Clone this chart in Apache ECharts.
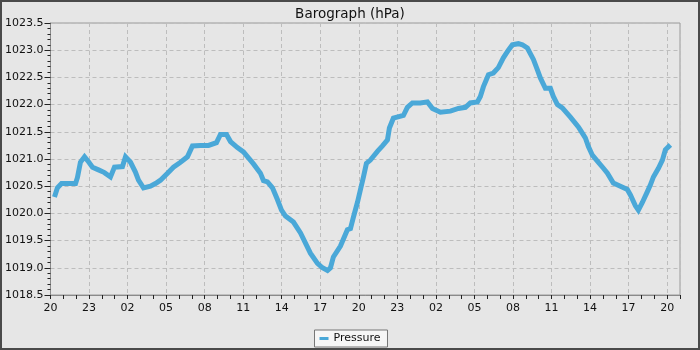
<!DOCTYPE html>
<html>
<head>
<meta charset="utf-8">
<script src="https://cdn.jsdelivr.net/npm/echarts@6/dist/echarts.min.js"></script>
<style>
  html, body { margin: 0; padding: 0; background: #e6e6e6; }
  .frame { width: 700px; height: 350px; box-sizing: border-box; border: 2px solid #4a4a4a; background: #e6e6e6; }
  .baro { width: 696px; height: 346px; }
</style>
</head>
<body>
<div class="frame"><div class="baro"></div></div>
<script>
// hours since 20:00 of the first day
var hours = [0.31, 0.54, 0.86, 1.40, 1.95, 2.10, 2.33, 2.65, 2.96, 3.27, 3.74, 4.20, 4.67, 4.98,
  5.60, 5.84, 6.23, 6.61, 6.85, 7.24, 7.78, 8.17, 8.56, 9.11, 9.57, 10.12, 10.66, 11.05, 11.67,
  12.30, 12.92, 13.23, 13.70, 14.01, 14.55, 15.02, 15.41, 15.80, 16.34, 16.58, 16.89, 17.28,
  17.67, 17.98, 18.29, 18.91, 19.46, 20.00, 20.23, 20.78, 21.17, 21.56, 21.79, 22.02, 22.57,
  23.11, 23.35, 23.58, 23.89, 24.12, 24.36, 24.59, 24.90, 25.14, 25.45, 25.84, 26.23, 26.38,
  26.69, 27.47, 27.78, 28.17, 28.79, 29.34, 29.73, 30.35, 31.13, 31.75, 32.30, 32.68, 33.23,
  33.46, 33.70, 34.09, 34.47, 34.86, 35.25, 35.64, 35.95, 36.42, 36.73, 37.12, 37.59, 37.90,
  38.13, 38.52, 38.91, 39.14, 39.46, 39.84, 40.47, 41.09, 41.25, 41.63, 41.87, 42.18, 42.65,
  43.04, 43.35, 43.81, 44.36, 44.90, 45.14, 45.53, 45.76, 46.07, 46.46, 46.69, 46.93, 47.32,
  47.63, 47.86, 48.25];
var pressure = [1020.30, 1020.47, 1020.55, 1020.55, 1020.55, 1020.66, 1020.94, 1021.04, 1020.95,
  1020.85, 1020.80, 1020.75, 1020.67, 1020.85, 1020.86, 1021.04, 1020.94, 1020.76, 1020.61,
  1020.47, 1020.50, 1020.55, 1020.61, 1020.74, 1020.85, 1020.94, 1021.04, 1021.24, 1021.25,
  1021.25, 1021.30, 1021.45, 1021.45, 1021.32, 1021.21, 1021.13, 1021.02, 1020.91, 1020.74,
  1020.60, 1020.58, 1020.47, 1020.25, 1020.06, 1019.95, 1019.84, 1019.64, 1019.38, 1019.27,
  1019.08, 1019.00, 1018.95, 1019.00, 1019.20, 1019.40, 1019.70, 1019.72, 1019.93, 1020.20,
  1020.43, 1020.67, 1020.92, 1020.98, 1021.05, 1021.14, 1021.24, 1021.35, 1021.57, 1021.75,
  1021.80, 1021.95, 1022.03, 1022.03, 1022.05, 1021.93, 1021.86, 1021.88, 1021.93, 1021.95,
  1022.03, 1022.05, 1022.15, 1022.33, 1022.55, 1022.58, 1022.68, 1022.86, 1023.00, 1023.10,
  1023.12, 1023.10, 1023.04, 1022.83, 1022.64, 1022.49, 1022.30, 1022.30, 1022.15, 1022.00,
  1021.94, 1021.77, 1021.59, 1021.53, 1021.39, 1021.23, 1021.07, 1020.94, 1020.83, 1020.74,
  1020.56, 1020.50, 1020.44, 1020.34, 1020.14, 1020.06, 1020.20, 1020.40, 1020.52, 1020.67,
  1020.83, 1020.98, 1021.17, 1021.26];
var startHour = 20;

var points = hours.map(function (h, i) { return [h, pressure[i]]; });

var chart = echarts.init(document.querySelector('.baro'));
var font = 'DejaVu Sans';
var option = {
  backgroundColor: '#e6e6e6',
  animation: false,
  title: {
    text: 'Barograph (hPa)',
    left: 'center',
    top: 0,
    textStyle: { fontFamily: font, fontSize: 13.5, fontWeight: 'normal', color: '#111' }
  },
  legend: {
    bottom: 1,
    left: 'center',
    data: [{ name: 'Pressure', icon: 'rect' }],
    itemWidth: 9,
    itemHeight: 3,
    itemGap: 6,
    padding: [3, 7, 3, 5],
    borderColor: '#777',
    borderWidth: 1,
    backgroundColor: '#f6f6f6',
    textStyle: { fontFamily: font, fontSize: 11, color: '#111' }
  },
  grid: { left: 48, right: 18, top: 21, bottom: 53, show: true, borderColor: '#9a9a9a', borderWidth: 1 },
  xAxis: {
    type: 'value',
    min: 0,
    max: 49,
    interval: 3,
    axisLine: { lineStyle: { color: '#8a8a8a' } },
    axisTick: { length: 4, lineStyle: { color: '#222' } },
    minorTick: { show: true, splitNumber: 3, length: 4, lineStyle: { color: '#222' } },
    axisLabel: {
      fontFamily: font, fontSize: 11, color: '#111', margin: 8,
      formatter: function (v) {
        if (v % 3 !== 0) return '';
        var hh = (startHour + v) % 24;
        return (hh < 10 ? '0' : '') + hh;
      }
    },
    splitLine: { show: true, lineStyle: { color: '#bdbdbd', type: [4, 3] } }
  },
  yAxis: {
    type: 'value',
    min: 1018.5,
    max: 1023.5,
    interval: 0.5,
    axisLine: { show: true, lineStyle: { color: '#8a8a8a' } },
    axisTick: { show: true, length: 6, lineStyle: { color: '#222' } },
    minorTick: { show: true, splitNumber: 5, length: 3, lineStyle: { color: '#222' } },
    axisLabel: {
      fontFamily: font, fontSize: 11, color: '#111', margin: 7,
      formatter: function (v) { return v.toFixed(1); }
    },
    splitLine: { show: true, lineStyle: { color: '#bdbdbd', type: [4, 3] } }
  },
  series: [{
    name: 'Pressure',
    type: 'line',
    data: points,
    symbol: 'none',
    lineStyle: { color: '#4aa8d8', width: 5, join: 'miter' },
    itemStyle: { color: '#4aa8d8' }
  }]
};
chart.setOption(option);
window.addEventListener('resize', function () { chart.resize(); });
</script>
</body>
</html>
